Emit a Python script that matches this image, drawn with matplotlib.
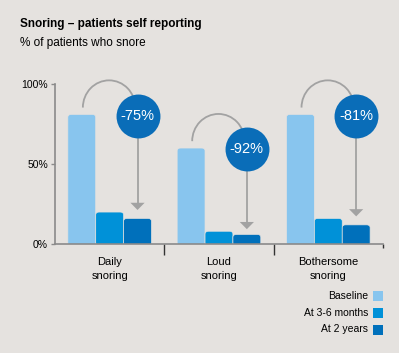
import numpy as np
import matplotlib
matplotlib.use("Agg")
import matplotlib.pyplot as plt
from matplotlib.patches import Arc, Rectangle, FancyBboxPatch

# data
groups = ["Daily\nsnoring", "Loud\nsnoring", "Bothersome\nsnoring"]
baseline = [81, 60, 81]
months = [20, 8, 16]
years = [16, 6, 12]
changes = ["-75%", "-92%", "-81%"]
series = ["Baseline", "At 3-6 months", "At 2 years"]
colors = ["#88c5ee", "#0091d8", "#0070bb"]

bg = "#e5e2df"
gray = "#a2a2a2"
circ = "#0a6db8"

plt.rcParams['font.family'] = ['Liberation Sans', 'DejaVu Sans']

fig = plt.figure(figsize=(3.99, 3.53), dpi=100, facecolor=bg)
ax = fig.add_axes([0.1378, 0.310, 0.822, 0.4533])
ax.set_facecolor(bg)

w = 0.255
x = np.arange(len(groups))
for k, vals in enumerate([baseline, months, years]):
    for i, v in enumerate(vals):
        left = x[i] + (k - 1) * w - w / 2
        p = FancyBboxPatch((left + 0.02, 0), w - 0.04, v - 1.5,
                           boxstyle="round,pad=0.02,rounding_size=0.03",
                           mutation_aspect=60, fc=colors[k], ec=bg, lw=0.5)
        ax.add_patch(p)

ax.set_xlim(-0.5, 2.5)
ax.set_ylim(0, 100)

# arcs, arrows, circles
for i in range(3):
    cx = x[i] + w
    cy = baseline[i] - 1
    ax.add_patch(Arc((x[i] - 0.005, baseline[i] + 4), 0.48, 34, theta1=0, theta2=180,
                     color=gray, lw=1.3, clip_on=False, zorder=3))
    tip = months[i] + 1
    ax.plot([cx, cx], [cy, tip + 4], color=gray, lw=1.3, zorder=3, clip_on=False)
    ax.fill([cx - 0.065, cx + 0.065, cx], [tip + 4.5, tip + 4.5, tip], color=gray,
            lw=0, zorder=3)
    ax.scatter([cx], [cy], s=1000, color=circ, zorder=4, clip_on=False, lw=0)
    ax.text(cx, cy, changes[i], color="white", fontsize=10.5, ha="center",
            va="center", zorder=5)

for s in ["top", "right"]:
    ax.spines[s].set_visible(False)
for s in ["left", "bottom"]:
    ax.spines[s].set_color("#8a8a8a")
    ax.spines[s].set_linewidth(1.2)

ax.set_yticks([0, 50, 100])
ax.set_yticklabels(["0%", "50%", "100%"], fontsize=7.5)
ax.tick_params(axis="y", length=3, width=1, color="#8a8a8a", pad=2)
ax.set_xticks(x)
ax.set_xticklabels(groups, fontsize=8, linespacing=1.45)
ax.tick_params(axis="x", length=0, pad=10)
ax.set_xticks([0.5, 1.5, 2.5], minor=True)
ax.tick_params(axis="x", which="minor", length=8, width=1, color="#333333")
ax.xaxis.get_minor_ticks()[2].tick1line.set_markersize(3)
ax.xaxis.get_minor_ticks()[2].tick1line.set_color("#8a8a8a")

fig.text(20 / 399, 1 - 24 / 353, "Snoring \u2013 patients self reporting",
         fontsize=8.5, fontweight="bold", va="center", ha="left")
fig.text(20 / 399, 1 - 43 / 353, "% of patients who snore",
         fontsize=8.5, va="center", ha="left")

# legend
ly = [296, 312.5, 329.5]
for k in range(3):
    fig.patches.append(Rectangle((373 / 399, 1 - (ly[k] + 5) / 353), 10 / 399, 10 / 353,
                                 transform=fig.transFigure, fc=colors[k], ec="none"))
    fig.text(368 / 399, 1 - ly[k] / 353, series[k], fontsize=7.5, ha="right", va="center")

fig.savefig("out.png", dpi=100, facecolor=bg)
